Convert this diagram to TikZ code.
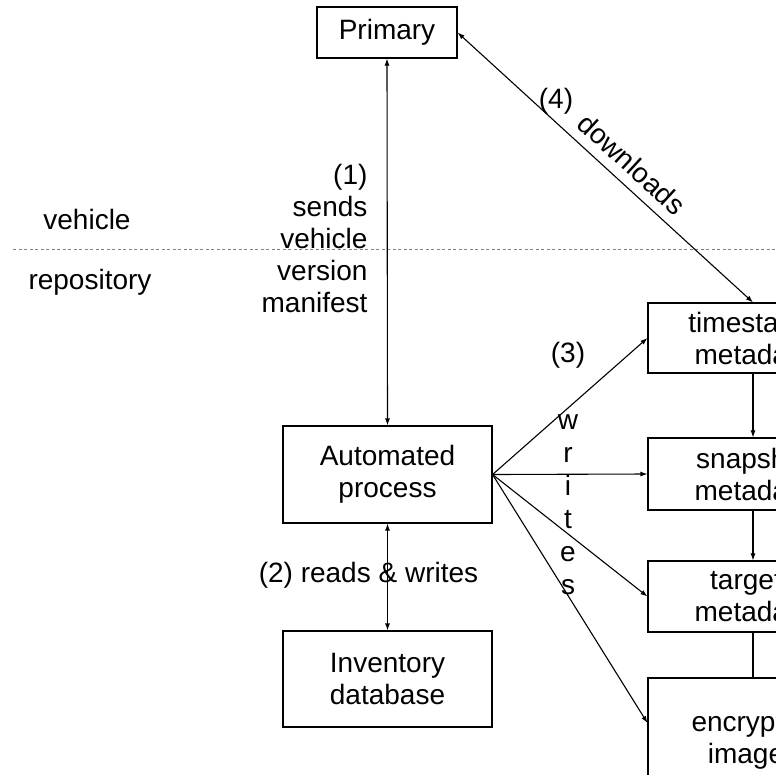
\documentclass[tikz,border=0pt]{standalone}
\usepackage{fontspec}
\setmainfont{Liberation Sans}
\usetikzlibrary{arrows.meta,positioning}
\tikzset{
    box/.style={draw,align=center,inner sep=0pt,minimum width=209},
    lbl/.style={inner sep=0pt},
    >={Latex[length=7pt,width=5pt]}
}

\begin{document}
\begin{tikzpicture}[x=1pt,y=-1pt,line width=1.1pt,font=\fontsize{28}{32}\selectfont]
    % keep the frame of the picture
    \clip (0,0) rectangle (776,774);

    % draw the dotted border between vehicle and repository
    \draw[gray,line width=0.8pt,dash pattern=on 3pt off 2.5pt] (13,249) -- (776,249);
    \node[lbl] (veh) at (87,219) {vehicle};
    \node[lbl] (repo) at (90,282) {repository};

    % draw the boxes
    \node[box,minimum width=140,minimum height=51] (prim) at (387,32.5) {Primary};
    \node[box,minimum height=97] (auto) at (387.5,474.5) {Automated\\process};
    \node[box,minimum height=96] (inv) at (387.5,679) {Inventory\\database};
    \node[box,minimum width=210,minimum height=70] (ts) at (753,338) {timestamp\\metadata};
    \node[box,minimum width=210,minimum height=72] (snap) at (753,474) {snapshot\\metadata};
    \node[box,minimum width=210,minimum height=71] (tgt) at (753,596.5) {targets\\metadata};
    \node[box,minimum width=210,minimum height=124] (enc) at (753,740) {encrypted\\images};

    % draw the arrows
    \draw[<->] (prim.south) -- (auto.north);
    \draw[<->] (auto.south) -- (inv.north);
    \draw[<->] (prim.east) -- (ts.north);
    \draw[->] (ts.south) -- (snap.north);
    \draw[->] (snap.south) -- (tgt.north);
    \draw (tgt.south) -- (enc.north);
    \foreach \t in {ts,snap,tgt}
        \draw[->] (auto.east) -- (\t.west);
    \draw[->] (auto.east) -- ([yshift=17pt]enc.west);

    % label the arrows
    \node[lbl,align=right,anchor=east] (send) at (368,238.5)
        {(1)\\sends\\vehicle\\version\\manifest};
    \node[lbl] (rw) at (368.5,575) {(2) reads \& writes};
    \node[lbl] (three) at (568,355) {(3)};
    \node[lbl,align=center,font=\fontsize{28}{33}\selectfont] (wr) at (568,504.5) {w\\r\\i\\t\\e\\s};
    \node[lbl] (four) at (556,101) {(4)};
    \node[lbl,rotate=-42.6] (dl) at (632,164) {downloads};
\end{tikzpicture}
\end{document}
